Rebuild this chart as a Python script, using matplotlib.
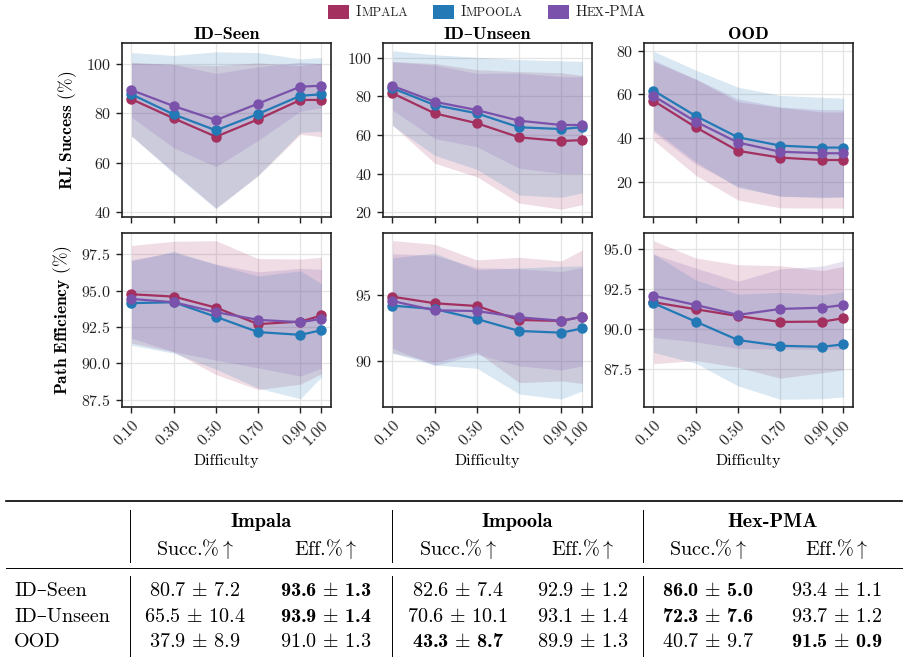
import numpy as np
import matplotlib
matplotlib.use("Agg")
import matplotlib.pyplot as plt
from matplotlib.lines import Line2D
from matplotlib.patches import Rectangle
from matplotlib.offsetbox import AnchoredOffsetbox, HPacker, TextArea, DrawingArea

# ── Data ──────────────────────────────────────────────────────────────────────
DIFFICULTY = [0.1, 0.3, 0.5, 0.7, 0.9, 1.0]
DIFF_LABELS = ["0.10", "0.30", "0.50", "0.70", "0.90", "1.00"]
SPLITS = ["ID–Seen", "ID–Unseen", "OOD"]
METHODS = ["Impala", "Impoola", "Hex-PMA"]
COLORS = ["#a3305f", "#2279b5", "#7b52ab"]

# rows: Impala, Impoola, Hex-PMA
SEEN_SUCC_MEAN = [[85.8, 78.0, 70.5, 77.6, 85.5, 85.5],
                  [87.8, 79.6, 73.1, 79.8, 87.2, 87.8],
                  [89.5, 83.0, 77.3, 84.0, 90.9, 91.3]]
SEEN_SUCC_STD = [[15.0, 22.0, 29.0, 23.0, 14.0, 15.0],
                 [17.0, 24.0, 32.0, 25.0, 15.0, 15.0],
                 [11.0, 17.0, 19.0, 15.0, 10.0, 9.0]]
UNSEEN_SUCC_MEAN = [[81.6, 71.2, 66.1, 58.8, 56.9, 57.4],
                    [84.2, 75.5, 71.2, 64.0, 63.1, 64.1],
                    [85.4, 77.2, 72.9, 67.4, 65.2, 65.2]]
UNSEEN_SUCC_STD = [[16.4, 25.8, 27.7, 34.0, 35.3, 33.4],
                   [19.4, 26.0, 29.0, 35.0, 35.3, 34.0],
                   [12.5, 19.0, 19.0, 24.6, 25.0, 25.0]]
OOD_SUCC_MEAN = [[57.0, 44.9, 34.1, 31.0, 29.9, 29.9],
                 [61.7, 50.1, 40.3, 36.5, 35.6, 35.6],
                 [59.2, 47.5, 37.9, 33.7, 33.0, 33.0]]
OOD_SUCC_STD = [[18.0, 22.0, 22.5, 23.0, 22.0, 22.0],
                [18.0, 21.0, 23.0, 23.0, 23.0, 22.6],
                [16.5, 19.5, 20.0, 20.5, 20.0, 20.0]]

SEEN_EFF_MEAN = [[94.75, 94.59, 93.83, 92.70, 92.87, 93.29],
                 [94.14, 94.20, 93.20, 92.15, 91.96, 92.28],
                 [94.43, 94.20, 93.52, 92.99, 92.83, 93.06]]
SEEN_EFF_STD = [[3.35, 3.8, 4.6, 4.5, 4.3, 4.0],
                [2.9, 3.5, 3.6, 3.85, 4.4, 3.2],
                [2.7, 3.4, 3.3, 3.3, 3.7, 3.4]]
UNSEEN_EFF_MEAN = [[94.87, 94.37, 94.16, 93.10, 93.02, 93.35],
                   [94.19, 93.93, 93.17, 92.26, 92.13, 92.46],
                   [94.54, 93.83, 93.78, 93.30, 93.04, 93.35]]
UNSEEN_EFF_STD = [[4.27, 4.49, 3.51, 4.77, 4.57, 5.08],
                  [3.63, 4.26, 3.75, 4.8, 5.05, 4.76],
                  [3.6, 4.2, 3.3, 3.7, 3.75, 3.75]]
OOD_EFF_MEAN = [[91.68, 91.24, 90.82, 90.45, 90.47, 90.68],
                [91.62, 90.47, 89.32, 88.96, 88.90, 89.05],
                [92.08, 91.51, 90.89, 91.26, 91.34, 91.51]]
OOD_EFF_STD = [[3.84, 3.2, 3.2, 3.51, 3.19, 3.23],
               [3.07, 2.6, 2.86, 3.34, 3.24, 3.28],
               [2.6, 2.3, 2.1, 2.5, 2.6, 2.75]]

SUCC_YLIMS = [(37.8, 108.7), (17.6, 107.6), (3.8, 83.5)]
SUCC_YTICKS = [[40, 60, 80, 100], [20, 40, 60, 80, 100], [20, 40, 60, 80]]
EFF_YLIMS = [(87.0, 98.96), (86.47, 99.72), (85.14, 96.0)]
EFF_YTICKS = [[87.5, 90.0, 92.5, 95.0, 97.5], [90, 95], [87.5, 90.0, 92.5, 95.0]]

# table: (succ mean, succ std, eff mean, eff std) per split
TABLE_IMPALA = [[80.7, 7.2, 93.6, 1.3], [65.5, 10.4, 93.9, 1.4], [37.9, 8.9, 91.0, 1.3]]
TABLE_IMPOOLA = [[82.6, 7.4, 92.9, 1.2], [70.6, 10.1, 93.1, 1.4], [43.3, 8.7, 89.9, 1.3]]
TABLE_HEX = [[86.0, 5.0, 93.4, 1.1], [72.3, 7.6, 93.7, 1.2], [40.7, 9.7, 91.5, 0.9]]
BEST_SUCC = ["Hex-PMA", "Hex-PMA", "Impoola"]
BEST_EFF = ["Impala", "Impala", "Hex-PMA"]

# ── Style ─────────────────────────────────────────────────────────────────────
plt.rcParams.update({
    "font.family": ["cmr10", "DejaVu Serif"],
    "mathtext.fontset": "cm",
    "axes.formatter.use_mathtext": True,
    "axes.unicode_minus": False,
    "font.size": 11.5,
})
BOLD = ["cmb10", "DejaVu Serif"]
REG = ["cmr10", "DejaVu Serif"]

W, H = 904, 658
fig = plt.figure(figsize=(W / 100, H / 100), dpi=100)


def fx(x):
    return x / W


def fy(y):
    return 1 - y / H


AX_LEFT = [122, 383, 644]
AX_W = 209
ROW_TOP = [43, 233]
AX_H = 174

succ_mean = [SEEN_SUCC_MEAN, UNSEEN_SUCC_MEAN, OOD_SUCC_MEAN]
succ_std = [SEEN_SUCC_STD, UNSEEN_SUCC_STD, OOD_SUCC_STD]
eff_mean = [SEEN_EFF_MEAN, UNSEEN_EFF_MEAN, OOD_EFF_MEAN]
eff_std = [SEEN_EFF_STD, UNSEEN_EFF_STD, OOD_EFF_STD]

x = np.array(DIFFICULTY)
for row in range(2):
    for col in range(3):
        ax = fig.add_axes([fx(AX_LEFT[col]), fy(ROW_TOP[row] + AX_H),
                           fx(AX_W), AX_H / H])
        means = succ_mean[col] if row == 0 else eff_mean[col]
        stds = succ_std[col] if row == 0 else eff_std[col]
        for m, s, c in zip(means, stds, COLORS):
            m = np.array(m)
            s = np.array(s)
            ax.fill_between(x, m - s, m + s, color=c, alpha=0.17, lw=0)
        for m, c in zip(means, COLORS):
            ax.plot(x, m, "o-", color=c, lw=1.6, ms=6.5)
        ax.set_xlim(0.055, 1.045)
        ax.set_xticks(DIFFICULTY)
        ax.grid(True, color="#e4e4e4", lw=0.9)
        ax.set_axisbelow(True)
        for sp in ax.spines.values():
            sp.set_linewidth(1.2)
            sp.set_color("#222222")
        ax.tick_params(direction="out", length=4.5, width=1.0, labelsize=11.5,
                       colors="#222222")
        if row == 0:
            ax.set_ylim(*SUCC_YLIMS[col])
            ax.set_yticks(SUCC_YTICKS[col])
            ax.set_xticklabels([])
            ax.set_title(SPLITS[col], family=BOLD, fontsize=13, pad=3)
            if col == 0:
                ax.set_ylabel(r"$\mathbf{RL\ Success}$ (%)", fontsize=12.5,
                              labelpad=5)
        else:
            ax.set_ylim(*EFF_YLIMS[col])
            ax.set_yticks(EFF_YTICKS[col])
            ax.set_xticklabels(DIFF_LABELS, rotation=45, ha="right",
                               rotation_mode="anchor")
            ax.set_xlabel("Difficulty", fontsize=11.5, labelpad=4)
            if col == 0:
                ax.set_ylabel(r"$\mathbf{Path\ Efficiency}$ (%)", fontsize=12.5,
                              labelpad=5)

# ── Legend with small caps ────────────────────────────────────────────────────
LEGEND_PARTS = [[("I", 11), ("MPALA", 9)],
                [("I", 11), ("MPOOLA", 9)],
                [("H", 11), ("EX", 9), ("-PMA", 11)]]
items = []
for parts, c in zip(LEGEND_PARTS, COLORS):
    da = DrawingArea(15.5, 10, 0, 0)
    da.add_artist(Rectangle((0, 0), 15.5, 10, fc=c, ec="none"))
    texts = [TextArea(t, textprops=dict(fontsize=s, family=REG,
                                        color="#222222"))
             for t, s in parts]
    label = HPacker(children=texts, sep=0, pad=0, align="baseline")
    items.append(HPacker(children=[da, label], sep=4.5, pad=0, align="center"))
leg = HPacker(children=items, sep=18, pad=0, align="center")
fig.add_artist(AnchoredOffsetbox(loc="upper center", child=leg, pad=0,
                                 borderpad=0, frameon=False,
                                 bbox_to_anchor=(fx(487), fy(5)),
                                 bbox_transform=fig.transFigure))

# ── Table ─────────────────────────────────────────────────────────────────────
TS = 14.5
fig.add_artist(Line2D([fx(6), fx(902)], [fy(501), fy(501)], lw=1.2, color="black"))
fig.add_artist(Line2D([fx(6), fx(902)], [fy(567.5), fy(567.5)], lw=0.7, color="black"))
for vx in [130, 392.5, 642.7]:
    fig.add_artist(Line2D([fx(vx), fx(vx)], [fy(510), fy(562)], lw=0.7, color="black"))
    fig.add_artist(Line2D([fx(vx), fx(vx)], [fy(576), fy(656)], lw=0.7, color="black"))

GROUP_X = [261, 517.6, 773]
COL_X = [[195, 326], [458, 583], [708, 837]]
for name, gx, cx in zip(METHODS, GROUP_X, COL_X):
    fig.text(fx(gx), fy(527), name, family=BOLD, fontsize=TS,
             ha="center", va="baseline")
    fig.text(fx(cx[0]), fy(555), r"Succ.%$\uparrow$", fontsize=TS,
             ha="center", va="baseline")
    fig.text(fx(cx[1]), fy(555), r"Eff.%$\uparrow$", fontsize=TS,
             ha="center", va="baseline")

ROW_Y = [596, 621.7, 646.7]
for i, (split, ry) in enumerate(zip(SPLITS, ROW_Y)):
    fig.text(fx(14), fy(ry), split, fontsize=TS, ha="left", va="baseline")
    for name, tab, cx in zip(METHODS, [TABLE_IMPALA, TABLE_IMPOOLA, TABLE_HEX], COL_X):
        sm, ss, em, es = tab[i]
        fam_s = BOLD if BEST_SUCC[i] == name else REG
        fam_e = BOLD if BEST_EFF[i] == name else REG
        fig.text(fx(cx[0]), fy(ry), rf"{sm:.1f} $\pm$ {ss:.1f}", family=fam_s,
                 fontsize=TS, ha="center", va="baseline")
        fig.text(fx(cx[1]), fy(ry), rf"{em:.1f} $\pm$ {es:.1f}", family=fam_e,
                 fontsize=TS, ha="center", va="baseline")

fig.savefig("out.png", dpi=100)
